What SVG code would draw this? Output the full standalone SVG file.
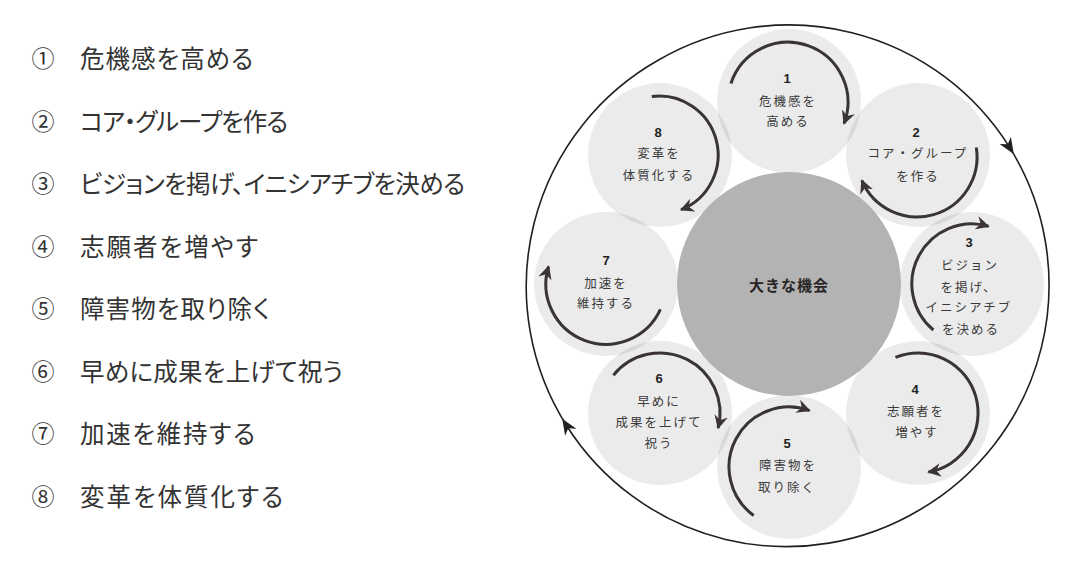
<svg xmlns="http://www.w3.org/2000/svg" width="1080" height="568" viewBox="0 0 1080 568">
<defs>
<style>
.lst{font-family:"Noto Sans CJK JP","Noto Sans",sans-serif;fill:#333;font-size:24.5px;font-feature-settings:"palt"}
.num{font-family:"Noto Sans CJK JP","Noto Sans",sans-serif;fill:#333;font-size:23px}
.nc{fill:#000;fill-opacity:0.08}
.nt{font-family:"Noto Sans CJK JP","Noto Sans",sans-serif;fill:#3a3a3a;font-size:12.5px;letter-spacing:2px;text-anchor:middle}
.nn{font-family:"Liberation Sans","Noto Sans",sans-serif;fill:#222;font-size:13px;font-weight:700;text-anchor:middle}
.arc{fill:none;stroke:#3a3435;stroke-width:3;marker-end:url(#ah)}
.outer{fill:none;stroke:#231f20;stroke-width:1.6}
</style>
<marker id="ah" viewBox="0 0 12 12" refX="10" refY="6" markerWidth="15" markerHeight="15" markerUnits="userSpaceOnUse" orient="auto">
<path d="M0,0.5 L11,6 L0,11.5 L3.5,6 z" fill="#3a3435"/>
</marker>
<marker id="oh" viewBox="0 0 12 12" refX="6" refY="6" markerWidth="16" markerHeight="16" markerUnits="userSpaceOnUse" orient="auto">
<path d="M0,1 L12,6 L0,11 L3.5,6 z" fill="#231f20"/>
</marker>
</defs>
<rect width="1080" height="568" fill="#fff"/>

<g id="legend">
<text class="num" x="31.5" y="67">①</text><text class="lst" x="80" y="68" textLength="173" lengthAdjust="spacing">危機感を高める</text>
<text class="num" x="31.5" y="129.5">②</text><text class="lst" x="80" y="130.5" textLength="208" lengthAdjust="spacing">コア・グループを作る</text>
<text class="num" x="31.5" y="192">③</text><text class="lst" x="80" y="193" textLength="385" lengthAdjust="spacing">ビジョンを掲げ、イニシアチブを決める</text>
<text class="num" x="31.5" y="254.5">④</text><text class="lst" x="80" y="255.5" textLength="178" lengthAdjust="spacing">志願者を増やす</text>
<text class="num" x="31.5" y="317">⑤</text><text class="lst" x="80" y="318" textLength="190" lengthAdjust="spacing">障害物を取り除く</text>
<text class="num" x="31.5" y="379.5">⑥</text><text class="lst" x="80" y="380.5" textLength="263" lengthAdjust="spacing">早めに成果を上げて祝う</text>
<text class="num" x="31.5" y="442">⑦</text><text class="lst" x="80" y="443" textLength="175" lengthAdjust="spacing">加速を維持する</text>
<text class="num" x="31.5" y="504.5">⑧</text><text class="lst" x="80" y="505.5" textLength="203" lengthAdjust="spacing">変革を体質化する</text>
</g>

<g id="node1"><circle class="nc" cx="789" cy="101" r="72"/>
<text class="nn" x="787" y="82.5">1</text>
<text class="nt" x="788" y="105.5">危機感を</text><text class="nt" x="788" y="126">高める</text></g>
<g id="node2"><circle class="nc" cx="918" cy="155" r="72"/>
<text class="nn" x="916" y="136.5">2</text>
<text class="nt" x="918" y="158">コア・グループ</text><text class="nt" x="918" y="181">を作る</text></g>
<g id="node3"><circle class="nc" cx="972" cy="284" r="72"/>
<text class="nn" x="969" y="246.5">3</text>
<text class="nt" x="970" y="269.5">ビジョン</text><text class="nt" x="969" y="291.5">を掲げ、</text>
<text class="nt" x="969" y="312">イニシアチブ</text><text class="nt" x="971" y="333.5">を決める</text></g>
<g id="node4"><circle class="nc" cx="918" cy="413" r="72"/>
<text class="nn" x="915" y="393.5">4</text>
<text class="nt" x="916" y="415.5">志願者を</text><text class="nt" x="917" y="436.5">増やす</text></g>
<g id="node5"><circle class="nc" cx="789" cy="467" r="72"/>
<text class="nn" x="787" y="447.5">5</text>
<text class="nt" x="788" y="469.5">障害物を</text><text class="nt" x="787" y="491.5">取り除く</text></g>
<g id="node6"><circle class="nc" cx="660" cy="413" r="72"/>
<text class="nn" x="659" y="382.5">6</text>
<text class="nt" x="659" y="405.5">早めに</text><text class="nt" x="659" y="426.5">成果を上げて</text>
<text class="nt" x="659" y="447.5">祝う</text></g>
<g id="node7"><circle class="nc" cx="606" cy="284" r="72"/>
<text class="nn" x="606" y="264.5">7</text>
<text class="nt" x="606" y="287.5">加速を</text><text class="nt" x="606" y="307.5">維持する</text></g>
<g id="node8"><circle class="nc" cx="660" cy="155" r="72"/>
<text class="nn" x="658" y="136.5">8</text>
<text class="nt" x="659" y="157.5">変革を</text><text class="nt" x="659" y="179.5">体質化する</text></g>

<g id="center"><circle cx="789" cy="284" r="112" fill="#b3b3b3"/>
<text x="789" y="291" text-anchor="middle" font-family="'Noto Sans CJK JP','Noto Sans',sans-serif" font-size="15" font-weight="700" letter-spacing="1" fill="#2a2526">大きな機会</text></g>

<g id="connectors">
<path class="outer" d="M566.5,425.5 A260,260 0 0 1 659,59.8 A260,260 0 0 1 1009.5,147.2" marker-end="url(#oh)"/>
<path class="outer" d="M1009.5,147.2 A260,260 0 0 1 919,510.2 A260,260 0 0 1 566.5,425.5" marker-end="url(#oh)"/>
<path class="arc" d="M730.9,83.5 A60,60 0 1 1 844,123.5"/>
<path class="arc" d="M976.3,147.6 A60,60 0 0 1 861.8,180.4"/>
<path class="arc" d="M933.4,330 A60,60 0 0 1 988.5,226.3"/>
<path class="arc" d="M895.5,357.4 A60,60 0 1 1 928.4,472.1"/>
<path class="arc" d="M753.7,515.5 A60,60 0 0 1 809.5,410.6"/>
<path class="arc" d="M613.4,375.2 A60,60 0 0 1 718.1,428"/>
<path class="arc" d="M660.4,309.4 A60,60 0 0 1 548.6,266.5"/>
<path class="arc" d="M651.8,96.4 A59,59 0 0 1 681.1,209.7"/>
</g>
</svg>
